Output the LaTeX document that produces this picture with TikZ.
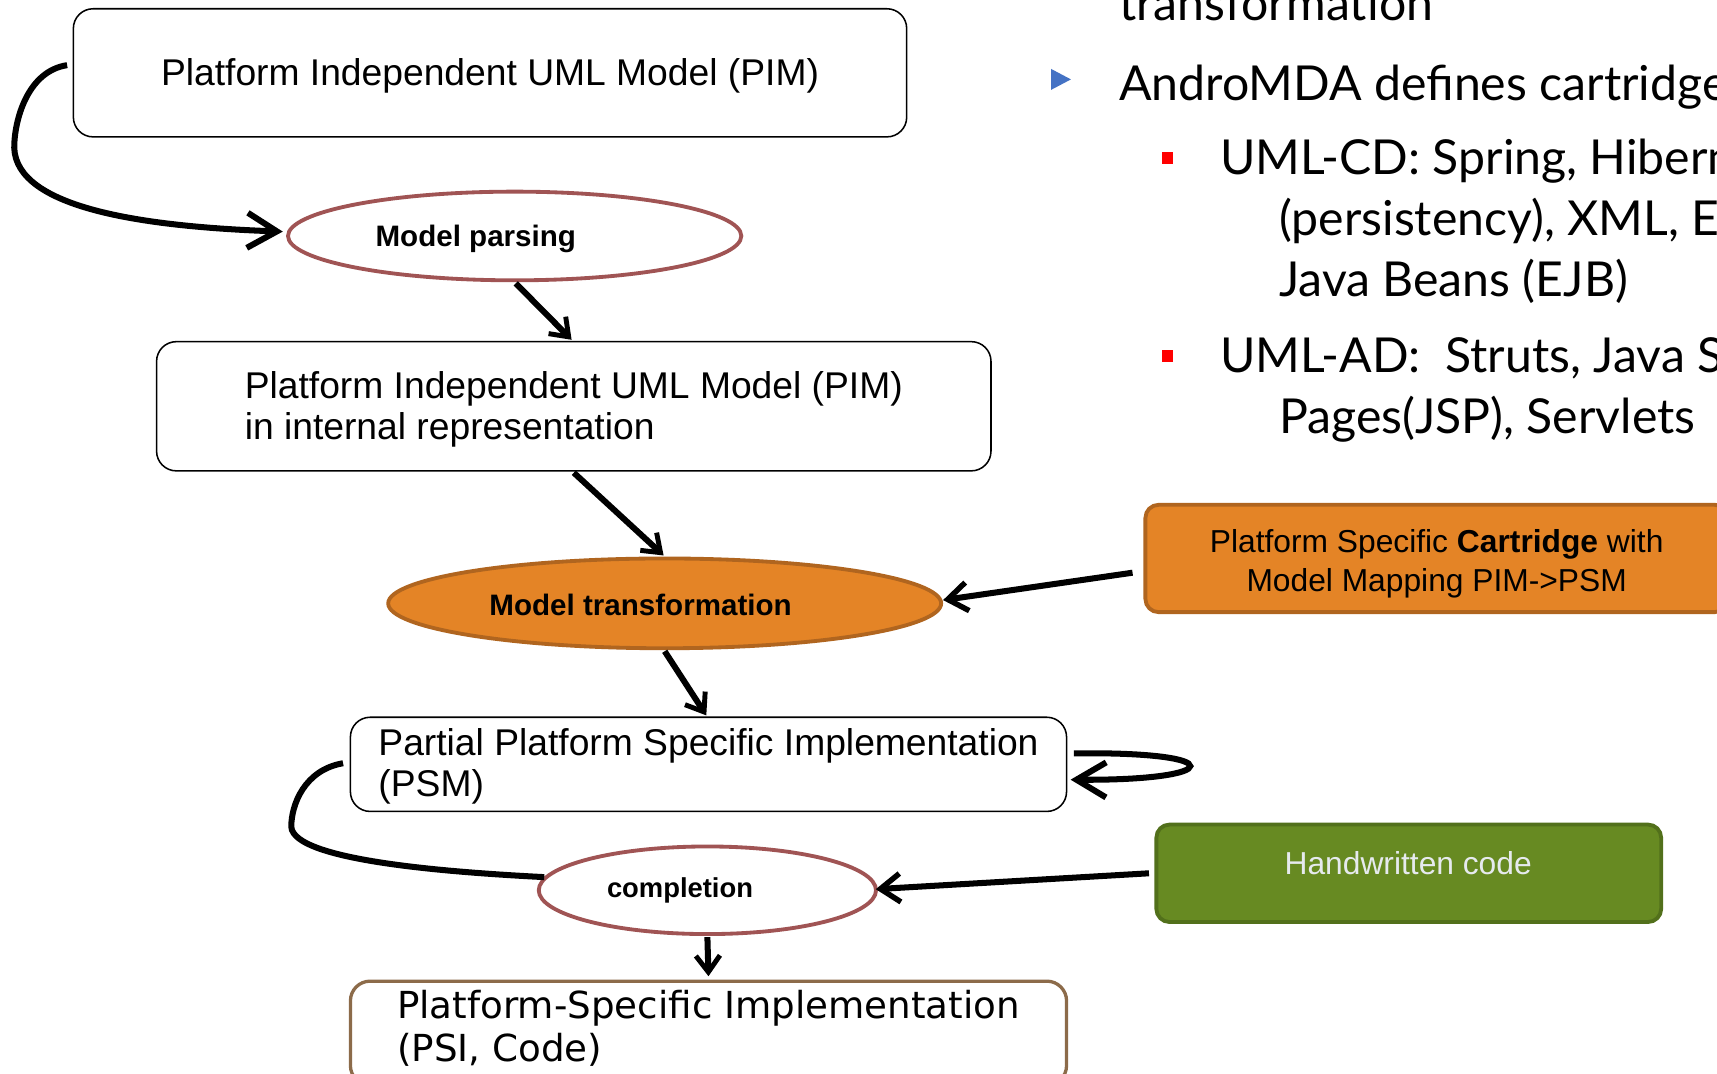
\documentclass[tikz,border=0pt]{standalone}
\usepackage{fontspec}
\setmainfont{Liberation Sans}
\newfontfamily\latofont{Lato}
\newfontfamily\dejavufont{DejaVu Sans}
\usetikzlibrary{arrows.meta,shapes.geometric,calc}

\definecolor{stepRed}{HTML}{A05454}
\definecolor{orangeFill}{HTML}{E48426}
\definecolor{orangeLine}{HTML}{B0651F}
\definecolor{greenFill}{HTML}{678A22}
\definecolor{greenLine}{HTML}{52701B}
\definecolor{psiLine}{HTML}{8C6B4A}
\definecolor{bulletBlue}{HTML}{4472C4}
\definecolor{handText}{HTML}{E6EAEE}

\begin{document}
\begin{tikzpicture}[x=1pt,y=-1pt,
  umlbox/.style={draw=black, line width=1.4pt, rounded corners=18pt, fill=white, inner sep=0pt},
  boxtext/.style={align=left, inner sep=0pt, font=\fontsize{34}{38}\selectfont},
  stepoval/.style={ellipse, draw=stepRed, line width=3.5pt, fill=white, inner sep=0pt},
  transoval/.style={ellipse, draw=orangeLine, line width=3.5pt, fill=orangeFill, inner sep=0pt},
  ovaltext/.style={font=\bfseries\fontsize{27}{30}\selectfont, inner sep=0pt},
  conn/.style={draw=black, line width=5.5pt},
  bigtip/.style={-{Straight Barb[length=27pt,width=32pt,line width=5.5pt]}},
  midtip/.style={-{Straight Barb[length=18pt,width=26pt,line width=5pt]}},
  smalltip/.style={-{Straight Barb[length=15pt,width=22pt,line width=4.5pt]}},
  slide/.style={font=\latofont\fontsize{44}{50}\selectfont, anchor=base west, inner sep=0pt}
]
\useasboundingbox (0,0) rectangle (1568,980);
\fill[white] (0,0) rectangle (1568,980);
\clip (0,0) rectangle (1568,980);

% ---- slide text on the right ----
\node[slide] (t0) at (1022,19) {transformation};
\fill[bulletBlue] (960,63) -- (960,82) -- (978,72.5) -- cycle;
\node[slide] (t1) at (1022,92) {AndroMDA defines cartridges};
\fill[red] (1061,139) rectangle (1071,150);
\node[slide] (t2) at (1114,159) {UML-CD: Spring, Hibernate};
\node[slide] (t3) at (1168,215) {(persistency), XML, Enterprise};
\node[slide] (t4) at (1168,271) {Java Beans (EJB)};
\fill[red] (1061,320) rectangle (1071,331);
\node[slide] (t5) at (1114,340) {UML-AD:\ \ Struts, Java Server};
\node[slide] (t6) at (1168,396) {Pages(JSP), Servlets};

% ---- model boxes ----
\node[umlbox, minimum width=761, minimum height=117] (pim) at (447.5,66.5) {};
\node[boxtext] (pimtext) at (447.5,69) {Platform Independent UML Model (PIM)};
\node[umlbox, minimum width=762, minimum height=118] (pimint) at (524,371) {};
\node[boxtext] (pimintext) at (524,374)
  {Platform Independent UML Model (PIM)\\in internal representation};
\node[umlbox, minimum width=654, minimum height=86] (psm) at (647,698) {};
\node[boxtext] (psmtext) at (647,700)
  {Partial Platform Specific Implementation\\(PSM)};
\node[draw=psiLine, line width=3pt, rounded corners=18pt, fill=white,
      minimum width=654, minimum height=95, inner sep=0pt] (psi) at (647,943.5) {};
\node[align=left, inner sep=0pt, font=\dejavufont\fontsize{34}{39}\selectfont] (psitext) at (647,939)
  {Platform-Specific Implementation\\(PSI, Code)};

% ---- processing steps ----
\node[stepoval, minimum width=414, minimum height=81] (parse) at (470,215.5) {};
\node[ovaltext] (parsetext) at (434.5,218) {Model parsing};
\node[transoval, minimum width=505, minimum height=82] (trans) at (607,551) {};
\node[ovaltext] (transtext) at (585,552) {Model transformation};
\node[stepoval, minimum width=308, minimum height=80] (comp) at (646,813) {};
\node[ovaltext, font=\bfseries\fontsize{25}{28}\selectfont] (comptext) at (621,813) {completion};

% ---- inputs ----
\node[draw=orangeLine, line width=3.5pt, fill=orangeFill, rounded corners=12pt,
      minimum width=532, minimum height=98, inner sep=0pt] (cart) at (1312,510) {};
\node[align=center, inner sep=0pt, font=\fontsize{29}{36}\selectfont] (carttext) at (1312,515)
  {Platform Specific \textbf{Cartridge} with\\Model Mapping PIM->PSM};
\node[draw=greenLine, line width=3.5pt, fill=greenFill, rounded corners=12pt,
      minimum width=461, minimum height=89, inner sep=0pt] (hand) at (1286.5,797.5) {};
\node[text=handText, font=\fontsize{29}{32}\selectfont, inner sep=0pt] (handtext) at (1286,788)
  {Handwritten code};

% ---- connectors ----
\draw[conn, bigtip] ($(pim.west)+(-5,-7)$) .. controls (25,65) and (13,110) .. (13,135)
  .. controls (15,190) and (130,207) .. ($(parse.west)+(-3,-4)$);
\draw[conn, smalltip] ($(parse.south)+(1,1)$) -- ($(pimint.north)+(-2,-1)$);
\draw[conn, smalltip] ($(pimint.south)+(0,1)$) -- ($(trans.north)+(-1,-1)$);
\draw[conn, smalltip] ($(trans.south)+(0,1)$) -- ($(psm.north)+(-2,-1)$);
\draw[conn, midtip] ($(cart.west)+(-10,13)$) -- ($(trans.east)+(0,-3)$);
\draw[conn, bigtip] ($(psm.east)+(6,-10)$) .. controls (1125,686) and (1118,713) .. ($(psm.east)+(3,14)$);
\draw[conn] ($(psm.west)+(-6,-1)$) .. controls (278,703) and (266,735) .. (266,755)
  .. controls (268,787) and (420,797) .. ($(comp.center)+(-149,-12)$);
\draw[conn, midtip] ($(hand.west)+(-5,0)$) -- ($(comp.east)+(-2,-1)$);
\draw[conn, smalltip] ($(comp.south)+(0,1)$) -- ($(psi.north)+(0,-3)$);
\end{tikzpicture}
\end{document}
